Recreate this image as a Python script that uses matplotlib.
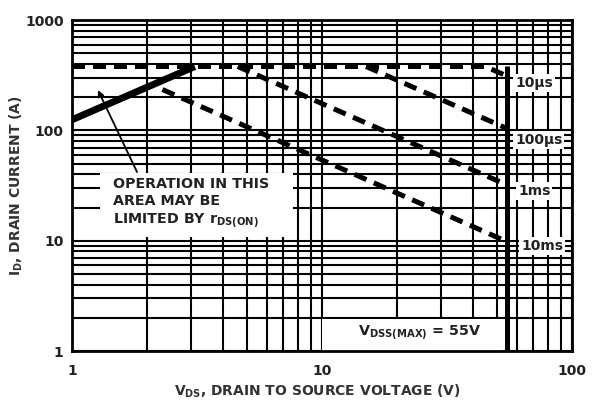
"""
Safe operating area: I_D vs V_DS (log-log), redrawn from a datasheet figure.
"""

import matplotlib
matplotlib.use("Agg")
import matplotlib.pyplot as plt
from matplotlib.patches import Rectangle
from matplotlib.ticker import LogLocator, NullFormatter

# -----------------------------------------------------------------------------
# Data
# -----------------------------------------------------------------------------
rds_v = [1.0, 3.1]            # rDS(ON) limit
rds_i = [125, 380]

us10_v = [1.0, 45, 55]        # 10 us (incl. current limit)
us10_i = [380, 380, 311]
us100_v = [15, 55]            # 100 us
us100_i = [380, 104]
ms1_v = [4.6, 55]             # 1 ms
ms1_i = [380, 32]
ms10_v = [2.3, 55]            # 10 ms
ms10_i = [235, 9.8]

vdss_v = [55, 55]             # V_DSS(MAX)
vdss_i = [1, 380]

arrow_tip = (1.27, 232)
arrow_tail = (1.82, 42)

x_ticks = [1, 10, 100]
x_ticklabels = ["1", "10", "100"]
y_ticks = [1, 10, 100, 1000]
y_ticklabels = ["1", "10", "100", "1000"]

pulse_labels = ["10\u00b5s", "100\u00b5s", "1ms", "10ms"]

# -----------------------------------------------------------------------------
plt.rcParams["font.family"] = ["DejaVu Sans"]
plt.rcParams["font.weight"] = "bold"
plt.rcParams["axes.labelweight"] = "bold"
plt.rcParams["mathtext.fontset"] = "custom"
plt.rcParams["mathtext.rm"] = "DejaVu Sans:bold"
plt.rcParams["mathtext.it"] = "DejaVu Sans:bold"
plt.rcParams["mathtext.bf"] = "DejaVu Sans:bold"

TXT = "#222222"

fig = plt.figure(figsize=(5.94, 4.03), dpi=100)
ax = fig.add_axes([0.1212, 0.129, 0.8418, 0.821])

ax.set_xscale("log")
ax.set_yscale("log")
ax.set_xlim(1, 100)
ax.set_ylim(1, 1000)

ax.set_xticks(x_ticks)
ax.set_xticklabels(x_ticklabels)
ax.set_yticks(y_ticks)
ax.set_yticklabels(y_ticklabels)
ax.xaxis.set_minor_locator(LogLocator(base=10, subs=range(2, 10)))
ax.yaxis.set_minor_locator(LogLocator(base=10, subs=range(2, 10)))
ax.xaxis.set_minor_formatter(NullFormatter())
ax.yaxis.set_minor_formatter(NullFormatter())
ax.tick_params(which="both", length=0, labelsize=10, labelcolor=TXT)
ax.tick_params(axis="x", pad=9)
ax.tick_params(axis="y", pad=6)

ax.set_axisbelow(True)
ax.grid(which="both", color="black", lw=1.5)
for s in ax.spines.values():
    s.set_linewidth(2)

# white boxes that hide the grid behind the notes
for x0, y0, w, h in [(0.056, 0.344, 0.386, 0.193), (0.5, 0.0, 0.362, 0.097)]:
    ax.add_patch(Rectangle((x0, y0), w, h, transform=ax.transAxes,
                           facecolor="white", edgecolor="none", zorder=1.5))

# curves
ax.plot(rds_v, rds_i, color="black", lw=5, solid_capstyle="butt", zorder=3)
dash_kw = dict(color="black", lw=3.6, ls=(0, (2.6, 1.6)),
               dash_capstyle="butt", zorder=3)
ax.plot(us10_v, us10_i, **dash_kw)
ax.plot(us100_v, us100_i, **dash_kw)
ax.plot(ms1_v, ms1_i, **dash_kw)
ax.plot(ms10_v, ms10_i, **dash_kw)
ax.plot(vdss_v, vdss_i, color="black", lw=3.6, solid_capstyle="butt", zorder=3)

# pulse width labels
label_pos = [(0.886, 0.810), (0.886, 0.637), (0.892, 0.483), (0.898, 0.317)]
for txt, (xf, yf) in zip(pulse_labels, label_pos):
    ax.text(xf, yf, txt, transform=ax.transAxes, ha="left", va="center",
            fontsize=10, color=TXT, zorder=4,
            bbox=dict(boxstyle="square,pad=0.15", fc="white", ec="none"))

# notes
ax.text(0.082, 0.525,
        "OPERATION IN THIS\nAREA MAY BE\nLIMITED BY r$_{DS(ON)}$",
        transform=ax.transAxes, ha="left", va="top", fontsize=10.3,
        color=TXT, linespacing=1.25, zorder=4)
ax.text(0.696, 0.057, "V$_{DSS(MAX)}$ = 55V", transform=ax.transAxes,
        ha="center", va="center", fontsize=10.3, color=TXT, zorder=4)

ax.annotate("", xy=arrow_tip, xytext=arrow_tail,
            arrowprops=dict(arrowstyle="-|>", color="black", lw=1.3,
                            mutation_scale=9, shrinkA=0, shrinkB=0),
            zorder=4)

ax.set_xlabel("V$_{DS}$, DRAIN TO SOURCE VOLTAGE (V)", fontsize=10,
              color="#333333")
ax.set_ylabel("I$_D$, DRAIN CURRENT (A)", fontsize=10, color="#333333")
ax.xaxis.set_label_coords(0.49, -0.095)
ax.yaxis.set_label_coords(-0.094, 0.5)

fig.savefig("out.png", dpi=100)
